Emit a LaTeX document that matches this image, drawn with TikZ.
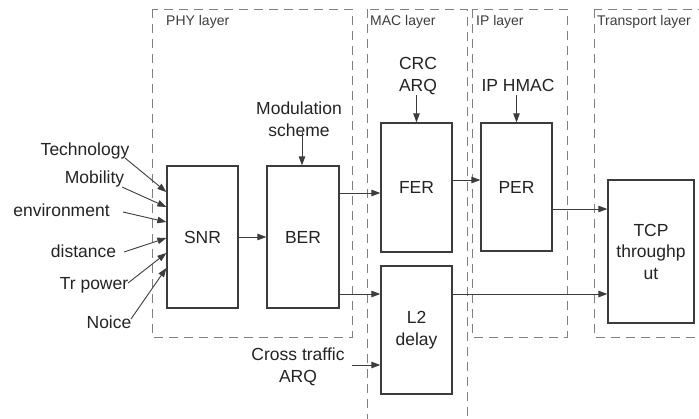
\documentclass[tikz,border=0pt]{standalone}
\usepackage{fontspec}
\setmainfont{Liberation Sans}
\usetikzlibrary{arrows.meta}
\definecolor{txt}{RGB}{35,35,35}
\definecolor{boxline}{RGB}{60,60,60}
\definecolor{dashline}{RGB}{128,128,128}
\definecolor{laytxt}{RGB}{60,60,60}
\begin{document}
\begin{tikzpicture}[x=1pt,y=-1pt,
  layerbox/.style={draw=dashline, line width=1pt, dash pattern=on 9pt off 6pt},
  laylabel/.style={font=\fontsize{14}{16}\selectfont, text=laytxt, anchor=west, inner sep=0pt},
  blk/.style={draw=boxline, line width=1.3pt, inner sep=0pt, align=center,
    font=\fontsize{17.5}{21.5}\selectfont, text=txt},
  lab/.style={font=\fontsize{17.5}{21.5}\selectfont, text=txt, align=center, inner sep=0pt},
  arr/.style={draw=boxline, line width=0.9pt, -{Triangle[length=9pt,width=6.5pt]}}]
\useasboundingbox (0,0) rectangle (699,418);
\clip (0,0) rectangle (699,418);

% layer frames
\draw[layerbox] (152,9) rectangle (352,337);
\draw[layerbox] (367,9) rectangle (467,440);
\draw[layerbox] (472,9) rectangle (567,337);
\draw[layerbox] (594,9) rectangle (720,337);
\node[laylabel] (phyl) at (166,22) {PHY layer};
\node[laylabel] (macl) at (370,22) {MAC layer};
\node[laylabel] (ipl)  at (476,22) {IP layer};
\node[laylabel] (trl)  at (597,22) {Transport layer};

% processing blocks
\node[blk, minimum width=71pt, minimum height=142pt] (snr) at (202.5,237) {SNR};
\node[blk, minimum width=72pt, minimum height=142pt] (ber) at (303,237) {BER};
\node[blk, minimum width=71pt, minimum height=129pt] (fer) at (416.5,187.5) {FER};
\node[blk, minimum width=71pt, minimum height=128pt] (per) at (516.5,187) {PER};
\node[blk, minimum width=71pt, minimum height=128pt] (l2)  at (416.5,330) {L2\\delay};
\node[blk, minimum width=86pt, minimum height=143pt] (tcp) at (651,251.5) {TCP\\throughp\\ut};

% input labels
\node[lab] (tech) at (85,151) {Technology};
\node[lab] (mob)  at (94.5,179) {Mobility};
\node[lab] (env)  at (61.5,210) {environment};
\node[lab] (dist) at (83.5,251) {distance};
\node[lab] (trp)  at (94,285) {Tr power};
\node[lab] (noi)  at (109,322) {Noice};
\node[lab] (mod)  at (299,119) {Modulation\\scheme};
\node[lab] (crc)  at (418,76) {CRC\\ARQ};
\node[lab] (ipm)  at (518,85) {IP HMAC};
\node[lab] (cross) at (298,367) {Cross traffic\\ARQ};

% arrow start points
\coordinate (techs) at (125,158);
\coordinate (mobs)  at (122,187);
\coordinate (envs)  at (123,212);
\coordinate (dists) at (124,252);
\coordinate (trps)  at (128,283);
\coordinate (nois)  at (131,319);
\coordinate (mods)  at (302,132);
\coordinate (crcs)  at (416.5,95);
\coordinate (ipms)  at (516.5,95);
\coordinate (crss)  at (352,365);

% arrow levels
\coordinate (y1) at (0,192);
\coordinate (y2) at (0,207);
\coordinate (y3) at (0,222);
\coordinate (y4) at (0,238);
\coordinate (y5) at (0,253);
\coordinate (y6) at (0,268);
\coordinate (ybf) at (0,193);
\coordinate (yfp) at (0,180);
\coordinate (ybl) at (0,294);
\coordinate (ypt) at (0,209);

\draw[arr] (techs) -- (snr.west |- y1);
\draw[arr] (mobs)  -- (snr.west |- y2);
\draw[arr] (envs)  -- (snr.west |- y3);
\draw[arr] (dists) -- (snr.west |- y4);
\draw[arr] (trps)  -- (snr.west |- y5);
\draw[arr] (nois)  -- (snr.west |- y6);

\draw[arr] (snr) -- (ber);
\draw[arr] (mods) -- (ber.north -| mods);
\draw[arr] (crcs) -- (fer.north);
\draw[arr] (ipms) -- (per.north);
\draw[arr] (ber.east |- ybf) -- (fer.west |- ybf);
\draw[arr] (ber.east |- ybl) -- (l2.west |- ybl);
\draw[arr] (fer.east |- yfp) -- (per.west |- yfp);
\draw[arr] (per.east |- ypt) -- (tcp.west |- ypt);
\draw[arr] (l2.east |- ybl) -- (tcp.west |- ybl);
\draw[arr] (crss) -- (l2.west |- crss);
\end{tikzpicture}
\end{document}
